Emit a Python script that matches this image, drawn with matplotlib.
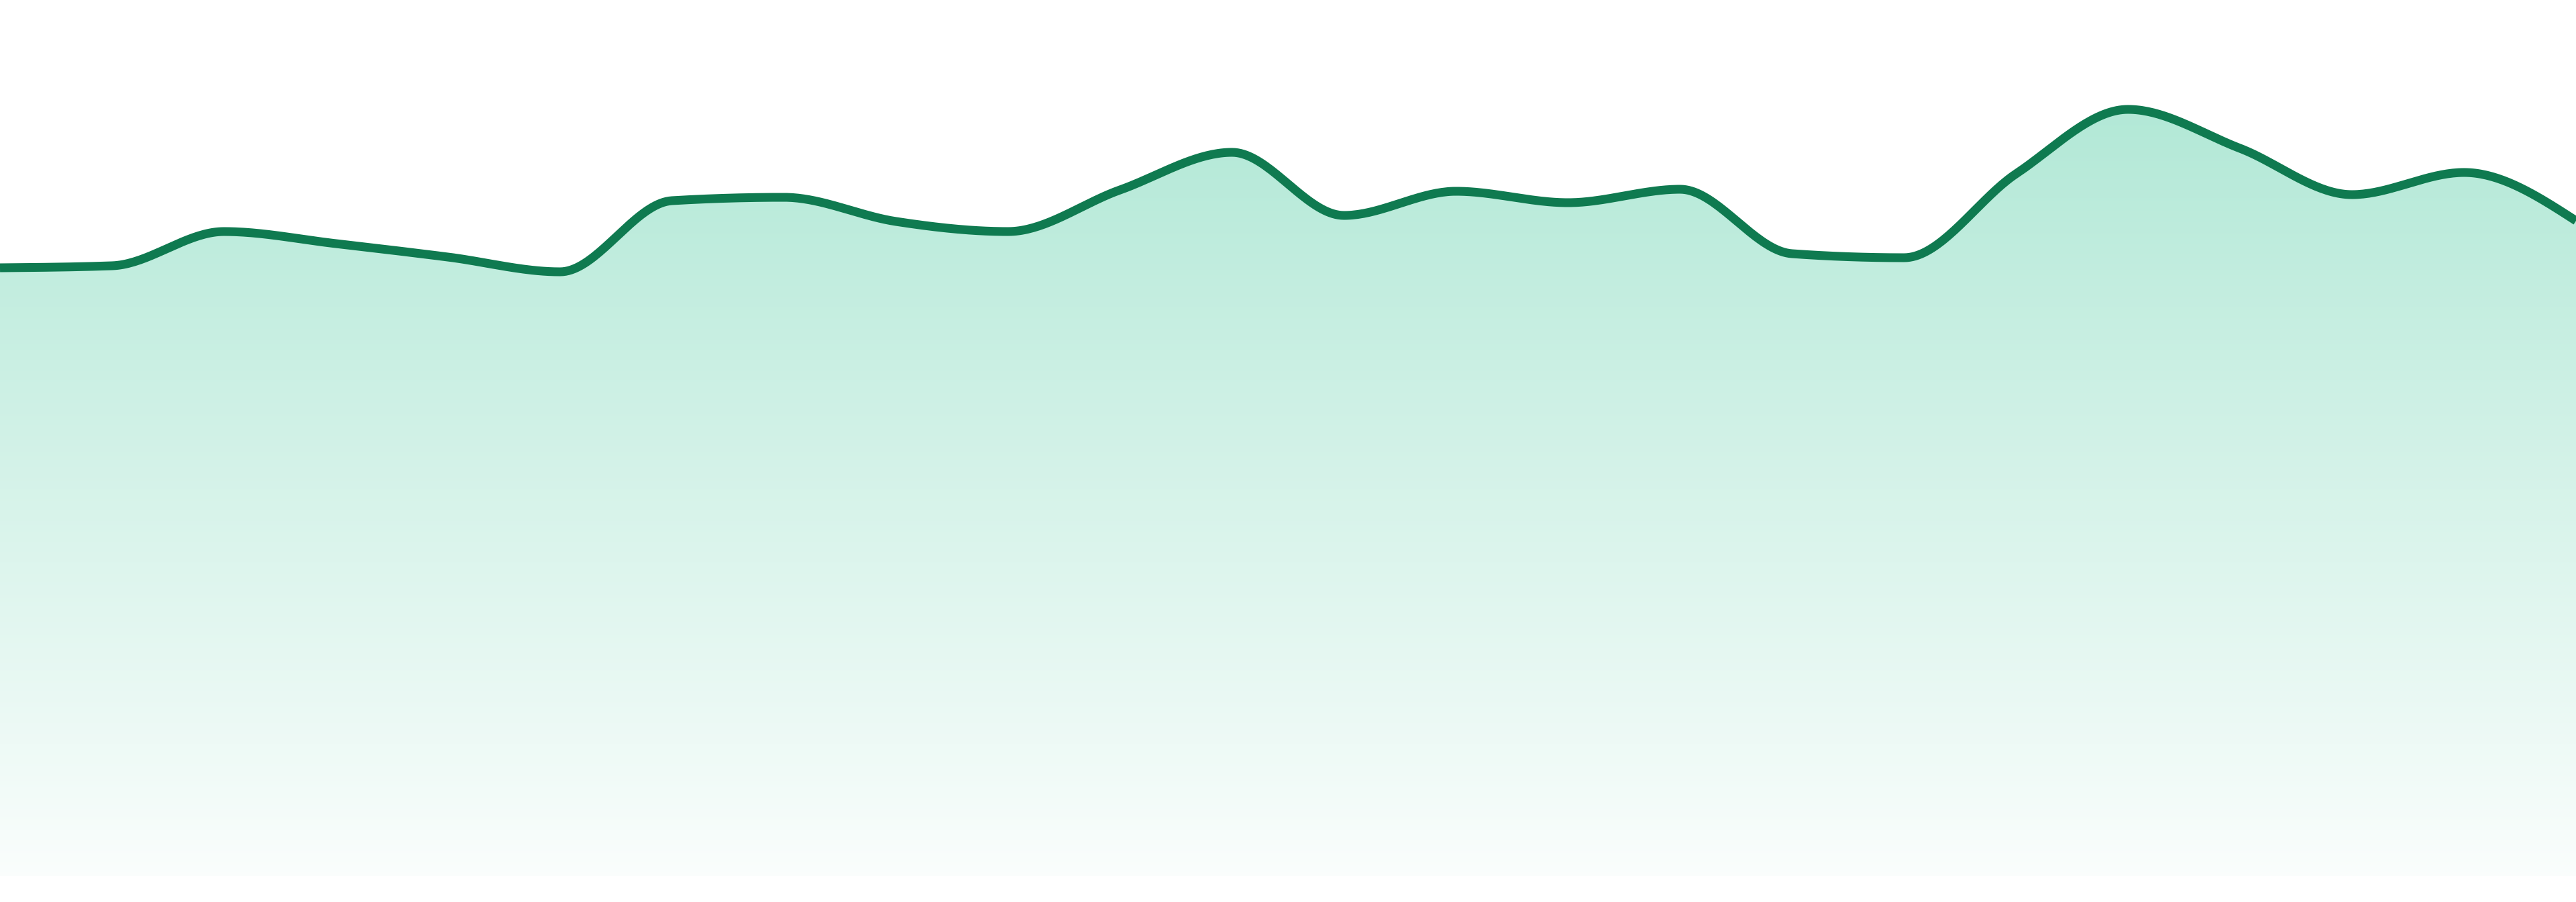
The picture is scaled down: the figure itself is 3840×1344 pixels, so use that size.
import numpy as np
import matplotlib
matplotlib.use("Agg")
import matplotlib.pyplot as plt
from matplotlib.colors import to_rgb

# values (one point per step, 24 steps)
steps = list(range(24))
values = [906, 909, 960, 942, 922, 900, 1006, 1011, 975, 960, 1022, 1078,
          984, 1020, 1003, 1023, 927, 921, 1046, 1142, 1084, 1015, 1048, 976]

line_color = "#0f7a50"
fill_color = "#10b981"


def monotone_curve(x, y, n=40):
    # monotone cubic (like d3 curveMonotoneX)
    x = np.asarray(x, float)
    y = np.asarray(y, float)
    h = np.diff(x)
    d = np.diff(y) / h
    m = np.zeros_like(y)
    for i in range(1, len(y) - 1):
        if d[i - 1] * d[i] <= 0:
            m[i] = 0
        else:
            p = (d[i - 1] * h[i] + d[i] * h[i - 1]) / (h[i - 1] + h[i])
            m[i] = np.sign(d[i - 1]) * min(abs(d[i - 1]), abs(d[i]), 0.5 * abs(p)) * 2 \
                if False else np.sign(d[i - 1]) * min(2 * abs(d[i - 1]), 2 * abs(d[i]), abs(p))
    m[0] = (3 * d[0] - m[1]) / 2 if len(y) > 2 else d[0]
    m[-1] = (3 * d[-1] - m[-2]) / 2 if len(y) > 2 else d[-1]
    xs, ys = [], []
    for i in range(len(x) - 1):
        t = np.linspace(0, 1, n, endpoint=False)
        h00 = 2 * t**3 - 3 * t**2 + 1
        h10 = t**3 - 2 * t**2 + t
        h01 = -2 * t**3 + 3 * t**2
        h11 = t**3 - t**2
        xs.append(x[i] + t * h[i])
        ys.append(h00 * y[i] + h10 * h[i] * m[i] + h01 * y[i + 1] + h11 * h[i] * m[i + 1])
    xs.append([x[-1]])
    ys.append([y[-1]])
    return np.concatenate(xs), np.concatenate(ys)


fig = plt.figure(figsize=(19.2, 6.72), dpi=200)
ax = fig.add_axes([0, 1 - 1305 / 1344, 1, 1305 / 1344])
ax.set_xlim(0, 23)
ax.set_ylim(0, 1305)
ax.axis("off")

cx, cy = monotone_curve(steps, values)

# gradient fill under the curve
top = cy.max()
rgb = np.array(to_rgb(fill_color))
nrow = 400
alpha = np.linspace(0.02, 0.32, nrow)[:, None]
img = np.ones((nrow, 1, 3)) * (1 - alpha[..., None]) + rgb * alpha[..., None]
im = ax.imshow(img, extent=[0, 23, 0, top], origin="lower", aspect="auto",
               interpolation="bilinear", zorder=1)
poly = ax.fill_between(cx, cy, 0, color="none", lw=0)
clip = plt.Polygon(np.column_stack([np.r_[cx, cx[-1], cx[0]], np.r_[cy, 0, 0]]),
                   closed=True, transform=ax.transData, facecolor="none", edgecolor="none")
ax.add_patch(clip)
im.set_clip_path(clip)

ax.plot(cx, cy, color=line_color, lw=4.7, solid_capstyle="butt", zorder=3)

fig.savefig("out.png", dpi=200, facecolor="white")
